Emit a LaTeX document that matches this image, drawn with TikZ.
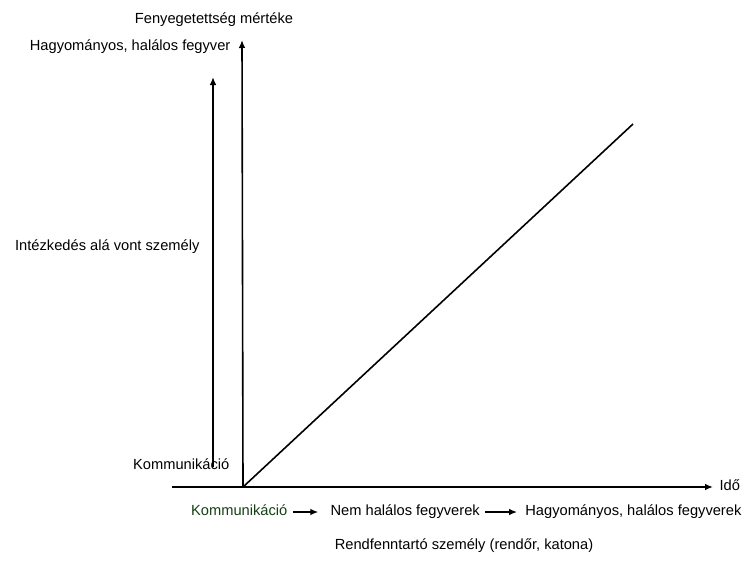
\documentclass[tikz,border=0pt]{standalone}
\usepackage{fontspec}
\setmainfont{Liberation Sans}
\usetikzlibrary{arrows.meta}
\definecolor{komgreen}{rgb}{0.08,0.25,0.08}
\begin{document}
\begin{tikzpicture}[x=0.75pt,y=-0.75pt,
  lbl/.style={inner sep=1pt,text height=8pt,text depth=2.5pt,font=\fontsize{11}{13}\selectfont},
  arr/.style={-{Latex[length=6pt,width=5pt]},line width=1.2pt}]
\useasboundingbox (0,0) rectangle (746,578);
\coordinate (O) at (243,487);
\coordinate (Y) at (242,40);
\coordinate (X0) at (172,487);
\coordinate (X) at (713,487);
\coordinate (D) at (633,124);
\coordinate (L0) at (213,467);
\coordinate (L) at (213,77);
\node[lbl] (F) at (214,20) {Fenyegetettség mértéke};
\node[lbl,anchor=east] (H) at (232,47) {Hagyományos, halálos fegyver};
\node[lbl,anchor=east] (I) at (201,247) {Intézkedés alá vont személy};
\node[lbl,anchor=east] (K) at (231,466) {Kommunikáció};
\node[lbl,anchor=west] (T) at (718,487) {Idő};
\node[lbl,anchor=east,text=komgreen] (K2) at (289,512) {Kommunikáció};
\node[lbl,anchor=west] (N) at (329,512) {Nem halálos fegyverek};
\node[lbl,anchor=east] (H2) at (743,512) {Hagyományos, halálos fegyverek};
\node[lbl] (R) at (464,546) {Rendfenntartó személy (rendőr, katona)};
\draw[arr] (O) -- (Y);
\draw[arr] (X0) -- (X);
\draw[line width=1.2pt] (O) -- (D);
\draw[arr] (L0) -- (L);
\path[arr,shorten <=3pt,shorten >=8pt]
  (K2) edge (N)
;
\path[arr,shorten <=3pt,shorten >=5pt]
  (N) edge (H2)
;
\end{tikzpicture}
\end{document}
